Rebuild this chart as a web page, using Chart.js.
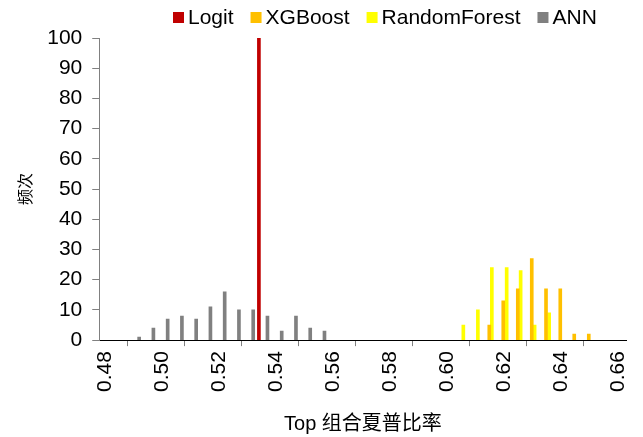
<!DOCTYPE html>
<html><head><meta charset="utf-8">
<script src="https://cdn.jsdelivr.net/npm/chart.js@4.4.0/dist/chart.umd.min.js"></script>
<style>html,body{margin:0;padding:0;background:#fff}#wrap{width:643px;height:437px}</style>
</head><body><div id="wrap"><canvas id="c" width="643" height="437"></canvas></div>
<script>
const annX = [0.494,0.499,0.504,0.509,0.514,0.519,0.524,0.529,0.534,0.539,0.544,0.549,0.554,0.559];
const annY = [1,4,7,8,7,11,16,10,10,8,3,8,4,3];
const logitX = [0.536];
const logitY = [100];
const rfX = [0.6077,0.6128,0.6177,0.6229,0.6278,0.6327,0.6378];
const rfY = [5,10,24,24,23,5,9];
const xgbX = [0.6168,0.6217,0.6268,0.6317,0.6367,0.6417,0.6466,0.6517];
const xgbY = [5,13,17,27,17,17,2,2];
const xTicks = [0.48,0.50,0.52,0.54,0.56,0.58,0.60,0.62,0.64,0.66];
const legendOrder = ['Logit','XGBoost','RandomForest','ANN'];

const pts = (xs, ys) => xs.map((x, i) => ({x: x, y: ys[i]}));
const font = '"Liberation Sans", Arial, "Noto Sans CJK SC", sans-serif';

const customLegend = {
  id: 'customLegend',
  afterDraw(chart) {
    const ctx = chart.ctx;
    ctx.save();
    ctx.font = '21px ' + font;
    ctx.textBaseline = 'middle';
    ctx.textAlign = 'left';
    let x = 173;
    const yc = 17.5;
    legendOrder.forEach(name => {
      const ds = chart.data.datasets.find(d => d.label === name);
      ctx.fillStyle = ds.backgroundColor;
      ctx.fillRect(x, yc - 5.5, 11, 11);
      ctx.fillStyle = '#000';
      ctx.fillText(name, x + 15, yc + 1);
      x += 15 + ctx.measureText(name).width + 17;
    });
    ctx.restore();
  }
};

new Chart(document.getElementById('c'), {
  type: 'bar',
  data: {
    datasets: [
      {label: 'Logit', data: pts(logitX, logitY), backgroundColor: '#C00000', barThickness: 3, grouped: false, order: 0},
      {label: 'XGBoost', data: pts(xgbX, xgbY), backgroundColor: '#FFC000', barThickness: 3, grouped: false, order: 2},
      {label: 'RandomForest', data: pts(rfX, rfY), backgroundColor: '#FFFF00', barThickness: 3, grouped: false, order: 3},
      {label: 'ANN', data: pts(annX, annY), backgroundColor: '#808080', barThickness: 3, grouped: false, order: 4}
    ]
  },
  plugins: [customLegend],
  options: {
    responsive: false,
    animation: false,
    layout: {padding: {left: 17, right: 13, top: 38, bottom: 1}},
    plugins: {
      legend: {display: false},
      tooltip: {enabled: false}
    },
    scales: {
      x: {
        type: 'linear',
        min: 0.48, max: 0.665,
        offset: false,
        afterBuildTicks: (s) => { s.ticks = xTicks.map(v => ({value: v})); },
        ticks: {
          minRotation: 90, maxRotation: 90, padding: 5, labelOffset: 6, color: '#000',
          font: {family: font, size: 21},
          callback: (v) => Number(v).toFixed(2)
        },
        grid: {display: true, drawOnChartArea: false, tickLength: 6, color: '#808080'},
        border: {color: '#000', width: 1},
        title: {display: true, text: 'Top 组合夏普比率', color: '#000', font: {family: font, size: 20}, padding: {top: 15, bottom: 0}}
      },
      y: {
        min: 0, max: 100,
        ticks: {stepSize: 10, color: '#000', padding: 10, font: {family: font, size: 21}},
        grid: {display: true, drawOnChartArea: false, tickLength: 7, color: '#808080'},
        border: {color: '#808080', width: 1},
        title: {display: true, text: '频次', color: '#000', font: {family: font, size: 16}, padding: {top: 0, bottom: 1}}
      }
    }
  }
});
</script></body></html>
